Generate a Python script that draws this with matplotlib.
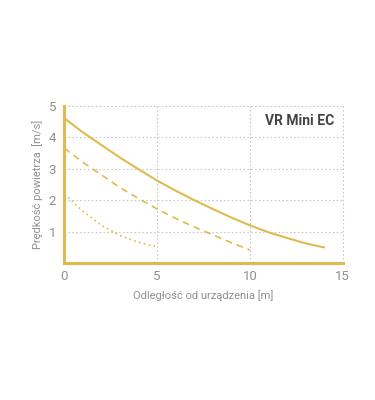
import matplotlib.pyplot as plt

# values
x_solid = [0, 1, 2, 3, 4, 5, 6, 7, 8, 9, 10, 11, 12, 13, 14]
y_solid = [4.6, 4.15, 3.75, 3.35, 2.98, 2.62, 2.3, 2.0, 1.72, 1.45, 1.2, 0.98, 0.8, 0.63, 0.5]
x_dashed = [0, 1, 2, 3, 4, 5, 6, 7, 8, 9, 10]
y_dashed = [3.65, 3.2, 2.8, 2.4, 2.05, 1.72, 1.42, 1.15, 0.9, 0.65, 0.42]
x_dotted = [0, 1, 2, 3, 4, 5]
y_dotted = [2.2, 1.65, 1.2, 0.88, 0.66, 0.52]
x_ticks = [0, 5, 10, 15]
y_ticks = [1, 2, 3, 4, 5]

gold = "#dfbb4e"
grey = "#909090"

plt.rcParams['font.family'] = ['Roboto', 'DejaVu Sans']

fig = plt.figure(figsize=(3.75, 4.0), dpi=100)
ax = fig.add_axes([0.1715, 0.342, 0.7425, 0.394])

ax.plot(x_solid, y_solid, color=gold, lw=1.5, solid_capstyle='round')
ax.plot(x_dashed, y_dashed, color=gold, lw=1.2, ls=(0, (4, 3)))
ax.plot(x_dotted, y_dotted, color=gold, lw=1.2, ls=(0, (1, 2)))

ax.set_xlim(0, 15)
ax.set_ylim(0, 5)
ax.set_xticks(x_ticks)
ax.set_yticks(y_ticks)
ax.grid(True, color="#c8c8c8", lw=0.8, ls=(0, (1.5, 2)))
for gl in ax.get_xgridlines() + ax.get_ygridlines():
    gl.set_clip_on(False)
ax.set_axisbelow(True)

for side in ['top', 'right']:
    ax.spines[side].set_visible(False)
for side in ['left', 'bottom']:
    ax.spines[side].set_color(gold)
    ax.spines[side].set_linewidth(2.2)

ax.tick_params(length=0, labelsize=9.5, colors=grey)
ax.tick_params(axis='x', pad=5)
ax.tick_params(axis='y', pad=6)
ax.set_xlabel("Odległość od urządzenia [m]", fontsize=8, color=grey, labelpad=5)
ax.set_ylabel("Prędkość powietrza  [m/s]", fontsize=8, color=grey, labelpad=4)

ax.text(0.97, 0.9, "VR Mini EC", transform=ax.transAxes, ha='right', va='center',
        fontsize=10, fontweight='bold', color="#444444")

fig.savefig("out.png", dpi=100, facecolor='white')
